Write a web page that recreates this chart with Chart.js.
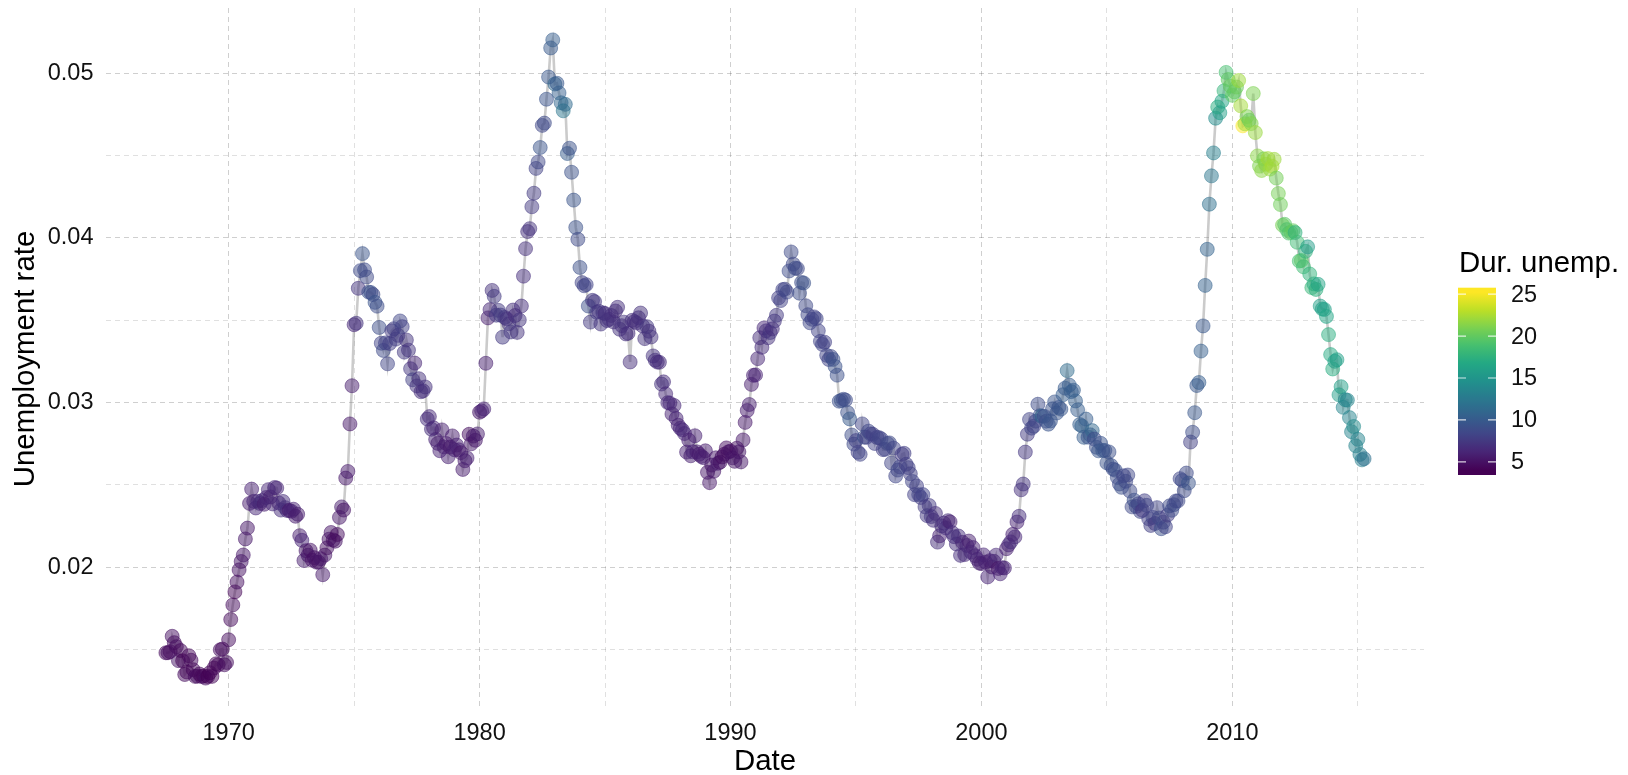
<!DOCTYPE html>
<html>
<head>
<meta charset="utf-8">
<title>Unemployment rate</title>
<script src="https://cdn.jsdelivr.net/npm/chart.js@4.4.1/dist/chart.umd.min.js"></script>
<style>
  html, body { margin: 0; padding: 0; background: #fff; overflow: hidden; }
  #wrap { width: 1628px; height: 775px; }
</style>
</head>
<body>
<div id="wrap"><canvas id="chart"></canvas></div>
<script>
// monthly series, first month is July 1967
const firstYear = 1967;
const firstMonth = 6; // 0-based, July

// unemployed persons (thousands), one line per year
const unemploy = [
  2944, 2945, 2958, 3143, 3066, 3018,
  2878, 3001, 2877, 2709, 2740, 2938, 2883, 2768, 2686, 2689, 2715, 2685,
  2718, 2692, 2712, 2758, 2713, 2816, 2868, 2856, 3040, 3049, 2856, 2884,
  3201, 3453, 3635, 3797, 3919, 4071, 4175, 4256, 4456, 4591, 4898, 5076,
  4986, 4903, 4987, 4959, 4996, 4949, 5035, 5134, 5042, 4954, 5161, 5154,
  5019, 4928, 5038, 4959, 4922, 4923, 4913, 4939, 4849, 4875, 4602, 4543,
  4326, 4452, 4394, 4459, 4329, 4363, 4305, 4305, 4350, 4144, 4396, 4489,
  4644, 4731, 4634, 4618, 4705, 4927, 5063, 5022, 5437, 5523, 6140, 6636,
  7501, 7520, 7978, 8210, 8433, 8220, 8127, 7928, 7923, 7897, 7794, 7744,
  7534, 7326, 7230, 7330, 7053, 7322, 7490, 7518, 7380, 7430, 7620, 7545,
  7280, 7443, 7307, 7059, 6911, 7134, 6829, 6925, 6751, 6763, 6815, 6386,
  6489, 6318, 6337, 6180, 6127, 6028, 6309, 6080, 6125, 5947, 6077, 6228,
  6109, 6173, 6109, 6069, 5840, 5959, 5996, 6320, 6190, 6296, 6238, 6325,
  6683, 6702, 6729, 7358, 7984, 8098, 8363, 8281, 8021, 8088, 8023, 7718,
  8071, 8051, 7982, 7869, 8174, 8098, 7863, 8036, 8230, 8646, 9029, 9267,
  9397, 9705, 9895, 10244, 10335, 10538, 10849, 10881, 11217, 11529, 11938, 12051,
  11534, 11545, 11408, 11268, 11154, 11246, 10548, 10623, 10282, 9887, 9499, 9331,
  9008, 8791, 8746, 8762, 8456, 8226, 8537, 8519, 8367, 8381, 8198, 8358,
  8423, 8321, 8339, 8395, 8302, 8460, 8513, 8196, 8248, 8298, 8128, 8138,
  7795, 8402, 8383, 8364, 8439, 8508, 8319, 8135, 8310, 8243, 8159, 7883,
  7892, 7865, 7862, 7542, 7574, 7398, 7268, 7261, 7102, 7227, 7035, 6936,
  6953, 6929, 6876, 6601, 6779, 6546, 6605, 6843, 6604, 6568, 6537, 6518,
  6682, 6359, 6205, 6468, 6375, 6577, 6495, 6511, 6590, 6630, 6725, 6667,
  6752, 6651, 6598, 6797, 6742, 6590, 6922, 7188, 7368, 7459, 7764, 7901,
  8015, 8265, 8586, 8439, 8736, 8692, 8586, 8666, 8722, 8842, 8931, 9198,
  9283, 9454, 9460, 9415, 9744, 10040, 9850, 9787, 9781, 9398, 9565, 9557,
  9325, 9183, 9056, 9110, 9149, 9121, 8930, 8763, 8714, 8750, 8542, 8477,
  8630, 8583, 8470, 8331, 7915, 7927, 7946, 7933, 7734, 7632, 7375, 7230,
  7375, 7187, 7153, 7645, 7430, 7427, 7527, 7484, 7478, 7328, 7426, 7423,
  7491, 7313, 7318, 7415, 7423, 7095, 7337, 6882, 6979, 7031, 7236, 7253,
  7158, 7102, 7000, 6873, 6655, 6799, 6655, 6608, 6656, 6454, 6308, 6476,
  6368, 6306, 6422, 5941, 6047, 6212, 6259, 6179, 6300, 6280, 6100, 6032,
  5976, 6111, 5783, 6004, 5796, 5951, 6025, 5838, 5915, 5778, 5716, 5653,
  5708, 5858, 5733, 5481, 5758, 5651, 5747, 5853, 5625, 5534, 5639, 5634,
  6023, 6089, 6141, 6271, 6226, 6484, 6583, 7042, 7142, 7694, 8003, 8258,
  8182, 8215, 8304, 8599, 8399, 8393, 8390, 8304, 8251, 8307, 8520, 8640,
  8520, 8618, 8588, 8842, 8957, 9266, 9011, 8896, 8921, 8732, 8576, 8317,
  8370, 8167, 8491, 8170, 8212, 8286, 8136, 7990, 7927, 8061, 7932, 7934,
  7784, 7980, 7737, 7672, 7651, 7524, 7406, 7345, 7553, 7453, 7566, 7279,
  7064, 7184, 7072, 7120, 6980, 7001, 7175, 7091, 6847, 6727, 6872, 6762,
  7116, 6927, 6731, 6850, 6766, 6979, 7149, 7067, 7170, 7237, 7240, 7645,
  7685, 7497, 7822, 7637, 8395, 8575, 8937, 9438, 9494, 10074, 10538, 11286,
  12058, 12898, 13426, 13853, 14499, 14707, 14601, 14814, 15009, 15352, 15219, 15098,
  15046, 15113, 15202, 15325, 14849, 14474, 14512, 14648, 14579, 14516, 15081, 14348,
  14013, 13820, 13737, 13957, 13855, 13962, 13763, 13818, 13948, 13594, 13302, 13093,
  12797, 12813, 12713, 12646, 12660, 12692, 12656, 12471, 12115, 12124, 12005, 12298,
  12471, 11950, 11689, 11760, 11654, 11751, 11335, 11279, 11270, 11136, 10787, 10404,
  10202, 10349, 10380, 9702, 9859, 9460, 9608, 9599, 9262, 8990, 9090, 8717,
  8903, 8610, 8504, 8526
];

// population (millions), one value per year 1967..2015
const popByYear = [
  198.7, 200.7, 202.7, 205.1, 207.7, 209.9, 211.9, 213.9, 216.0, 218.0,
  220.2, 222.6, 225.1, 227.2, 229.5, 231.7, 233.8, 235.8, 237.9, 240.1,
  242.3, 244.5, 246.8, 249.6, 253.0, 256.5, 259.9, 263.1, 266.3, 269.4,
  272.6, 275.9, 279.0, 282.2, 285.0, 287.6, 290.1, 292.8, 295.5, 298.4,
  301.2, 304.1, 306.8, 309.3, 311.6, 313.9, 316.1, 318.4, 320.6
];

// median duration of unemployment (weeks)
const uempmed = [
  4.5, 4.7, 4.6, 4.9, 4.7, 4.8,
  5.1, 4.5, 4.1, 4.6, 4.4, 4.4, 4.5, 4.2, 4.6, 4.8, 4.4, 4.4,
  4.4, 4.9, 4.0, 4.0, 4.2, 4.4, 4.4, 4.4, 4.7, 4.5, 4.8, 4.6,
  4.6, 4.5, 4.6, 4.1, 4.7, 4.9, 5.1, 5.4, 5.2, 5.2, 5.6, 5.9,
  6.2, 6.3, 6.4, 6.5, 6.7, 5.7, 6.2, 6.4, 5.8, 6.5, 6.4, 6.2,
  6.2, 6.6, 6.6, 6.7, 6.6, 5.4, 6.1, 6.0, 5.6, 5.7, 5.7, 6.1,
  5.7, 5.2, 5.5, 5.0, 4.9, 5.0, 5.2, 4.9, 5.4, 5.5, 5.1, 4.7,
  5.0, 5.1, 4.8, 5.0, 4.6, 5.3, 5.7, 5.0, 5.3, 5.5, 5.2, 5.7,
  6.3, 7.1, 7.2, 8.7, 9.4, 8.8, 8.6, 9.2, 9.2, 8.6, 9.5, 9.0,
  9.0, 8.2, 8.7, 8.2, 8.3, 7.8, 7.7, 7.9, 7.8, 7.7, 8.4, 8.0,
  7.5, 7.2, 7.2, 7.3, 7.9, 6.2, 7.1, 7.0, 6.7, 6.9, 7.0, 6.8,
  6.5, 6.7, 6.2, 6.1, 5.7, 6.0, 5.8, 5.8, 5.6, 5.9, 5.5, 5.6,
  5.9, 5.9, 5.9, 5.4, 5.6, 5.6, 5.9, 4.8, 5.5, 5.5, 5.3, 5.7,
  5.3, 5.8, 6.0, 5.8, 5.7, 6.4, 7.0, 7.5, 7.7, 7.5, 7.7, 7.5,
  7.4, 7.1, 7.1, 7.4, 6.9, 6.6, 7.1, 7.2, 6.8, 6.8, 6.9, 6.9,
  7.1, 7.5, 7.7, 8.1, 8.5, 9.5, 8.5, 8.7, 9.5, 9.7, 10.0, 10.2,
  11.1, 9.8, 10.4, 10.9, 12.3, 11.3, 10.1, 9.3, 9.3, 9.4, 9.3, 8.7,
  9.1, 8.3, 8.3, 8.2, 9.1, 7.5, 7.5, 7.3, 7.6, 7.2, 7.2, 7.3,
  6.8, 7.1, 7.1, 6.9, 6.9, 6.6, 6.9, 7.1, 6.9, 7.1, 7.0, 6.8,
  6.7, 6.9, 6.8, 6.7, 6.8, 7.0, 6.9, 7.1, 7.4, 7.0, 7.1, 7.1,
  6.9, 6.6, 6.6, 7.1, 6.6, 6.5, 6.5, 6.4, 6.0, 6.3, 6.2, 6.0,
  6.2, 6.3, 6.4, 5.9, 5.9, 5.8, 6.1, 5.9, 5.7, 5.6, 5.7, 5.9,
  5.6, 5.4, 5.4, 5.4, 5.3, 5.4, 5.6, 5.0, 4.9, 4.9, 4.8, 4.9,
  5.1, 5.3, 5.1, 4.8, 5.2, 5.2, 5.4, 5.4, 5.6, 5.8, 5.7, 5.9,
  6.0, 6.2, 6.7, 6.6, 6.4, 6.9, 7.0, 7.3, 6.8, 7.2, 7.5, 7.8,
  8.1, 8.2, 8.3, 8.5, 8.8, 8.7, 8.6, 8.8, 8.6, 9.0, 9.0, 9.3,
  8.6, 8.5, 8.5, 8.4, 8.1, 8.3, 8.2, 8.2, 8.3, 8.0, 8.3, 8.3,
  8.6, 9.2, 9.3, 9.1, 9.2, 9.3, 9.0, 8.9, 9.2, 10.0, 9.0, 8.7,
  8.0, 8.1, 8.3, 8.3, 9.1, 7.9, 8.5, 8.3, 7.9, 8.2, 8.0, 8.3,
  8.3, 7.8, 8.3, 8.6, 8.6, 8.3, 8.3, 8.4, 8.5, 8.3, 7.7, 7.8,
  7.8, 8.1, 7.9, 8.3, 8.0, 8.0, 8.3, 7.8, 8.2, 7.7, 7.6, 7.5,
  7.4, 7.0, 6.8, 6.7, 6.0, 6.9, 6.7, 6.8, 6.7, 5.8, 6.6, 6.8,
  6.9, 6.8, 6.8, 6.2, 6.5, 6.3, 5.8, 6.5, 6.0, 6.1, 6.2, 5.8,
  5.8, 6.1, 6.0, 6.1, 5.8, 5.7, 6.0, 6.3, 5.2, 6.1, 6.1, 6.0,
  5.8, 6.1, 6.6, 5.9, 6.3, 6.0, 6.8, 6.9, 7.2, 7.3, 7.7, 8.2,
  8.4, 8.3, 8.4, 8.9, 9.5, 11.0, 8.9, 9.0, 9.5, 9.6, 9.3, 9.6,
  9.6, 9.5, 9.7, 10.2, 9.9, 11.5, 10.3, 10.1, 10.2, 10.4, 10.3, 10.4,
  10.6, 10.2, 10.2, 9.5, 9.9, 11.0, 8.9, 9.2, 9.6, 9.5, 9.7, 9.5,
  9.4, 9.2, 9.3, 9.0, 9.1, 9.0, 8.8, 9.2, 8.4, 8.6, 8.5, 8.7,
  8.6, 9.1, 8.7, 8.4, 8.5, 7.3, 8.0, 8.4, 8.0, 7.9, 8.3, 7.5,
  8.3, 8.5, 9.1, 8.6, 8.2, 7.7, 8.7, 8.8, 8.7, 8.4, 8.6, 8.4,
  9.0, 8.7, 8.7, 9.4, 7.9, 9.0, 9.7, 9.7, 10.2, 10.4, 9.8, 10.5,
  10.7, 11.7, 12.3, 13.1, 14.2, 17.2, 16.0, 16.3, 17.8, 18.9, 19.8, 20.1,
  20.0, 19.9, 20.4, 22.1, 22.3, 25.2, 22.3, 21.0, 20.3, 21.2, 21.0, 21.9,
  21.5, 21.1, 21.5, 20.9, 21.6, 22.3, 22.0, 22.4, 22.0, 20.6, 20.8, 20.5,
  20.8, 19.7, 19.2, 19.1, 19.9, 20.1, 17.5, 18.5, 18.8, 19.7, 18.5, 17.6,
  15.6, 17.7, 18.0, 17.3, 17.4, 16.3, 16.0, 15.9, 16.0, 16.4, 17.2, 16.9,
  17.1, 16.0, 16.0, 15.7, 15.9, 13.6, 13.8, 13.7, 13.4, 13.5, 14.2, 13.5,
  13.4, 13.2, 12.9, 11.8
];

// axis breaks
const xTicks = [1970, 1975, 1980, 1985, 1990, 1995, 2000, 2005, 2010, 2015];
const xLabelled = [1970, 1980, 1990, 2000, 2010];
const yTicks = [0.015, 0.02, 0.025, 0.03, 0.035, 0.04, 0.045, 0.05];
const yLabelled = [0.02, 0.03, 0.04, 0.05];
const legendBreaks = [5, 10, 15, 20, 25];

const FONT = '"Liberation Sans", Arial, Helvetica, sans-serif';

// viridis colour map
const viridisStops = ['#440154', '#482475', '#414487', '#355f8d', '#2a788e', '#21918c',
                      '#22a884', '#44bf70', '#7ad151', '#bddf26', '#fde725'];
const hexRgb = h => [1, 3, 5].map(i => parseInt(h.slice(i, i + 2), 16));
function viridis(t, alpha) {
    t = Math.max(0, Math.min(1, t));
    const p = t * (viridisStops.length - 1);
    const i = Math.min(Math.floor(p), viridisStops.length - 2);
    const f = p - i;
    const a = hexRgb(viridisStops[i]), b = hexRgb(viridisStops[i + 1]);
    const c = a.map((v, k) => Math.round(v + (b[k] - v) * f));
    return `rgba(${c[0]}, ${c[1]}, ${c[2]}, ${alpha})`;
}

// build points
const points = unemploy.map((u, i) => {
    const m = firstMonth + i;
    const year = firstYear + Math.floor(m / 12);
    return { x: firstYear + m / 12, y: u / (popByYear[year - firstYear] * 1000) };
});

const durMin = Math.min(...uempmed);
const durMax = Math.max(...uempmed);
const colourFor = (v, a) => viridis((v - durMin) / (durMax - durMin), a);

// ggplot style 5% expansion of the data range
const expand = (lo, hi) => [lo - (hi - lo) * 0.05, hi + (hi - lo) * 0.05];
const [xMin, xMax] = expand(points[0].x, points[points.length - 1].x);
const ys = points.map(p => p.y);
const [yMin, yMax] = expand(Math.min(...ys), Math.max(...ys));

const isIn = (v, list) => list.some(l => Math.abs(l - v) < 1e-9);

// colour bar legend drawn next to the panel
const colourBar = {
    id: 'colourBar',
    afterDraw(chart) {
        const ctx = chart.ctx;
        const x0 = 1458, w = 38, top = 287.7, bottom = 475;
        // bar extends half a bin past the limits (20 bins)
        const half = (durMax - durMin) / 38;
        const vTop = durMax + half, vBot = durMin - half;
        const yOf = v => bottom - (v - vBot) / (vTop - vBot) * (bottom - top);

        ctx.save();
        const grad = ctx.createLinearGradient(0, bottom, 0, top);
        for (let k = 0; k <= 40; k++) {
            const v = vBot + (vTop - vBot) * k / 40;
            grad.addColorStop(k / 40, colourFor(v, 1));
        }
        ctx.fillStyle = grad;
        ctx.fillRect(x0, top, w, bottom - top);

        ctx.strokeStyle = 'rgba(255,255,255,0.8)';
        ctx.lineWidth = 1.2;
        ctx.fillStyle = '#111';
        ctx.font = `23.5px ${FONT}`;
        ctx.textAlign = 'left';
        ctx.textBaseline = 'middle';
        legendBreaks.forEach(b => {
            const y = yOf(b);
            ctx.beginPath();
            ctx.moveTo(x0, y); ctx.lineTo(x0 + 8, y);
            ctx.moveTo(x0 + w - 8, y); ctx.lineTo(x0 + w, y);
            ctx.stroke();
            ctx.fillText(String(b), 1511, y + 1);
        });

        ctx.fillStyle = '#000';
        ctx.font = `29.4px ${FONT}`;
        ctx.textBaseline = 'alphabetic';
        ctx.fillText('Dur. unemp.', 1459, 271.7);
        ctx.restore();
    }
};

const gridColour = (ctx, major) => isIn(ctx.tick.value, major) ? 'rgba(0,0,0,0.19)' : 'rgba(0,0,0,0.12)';

new Chart(document.getElementById('chart'), {
    type: 'scatter',
    data: {
        datasets: [
            {
                label: 'points',
                data: points,
                order: 0,
                pointRadius: 7,
                pointHoverRadius: 7,
                borderWidth: 1,
                backgroundColor: uempmed.map(v => colourFor(v, 0.5)),
                borderColor: uempmed.map(v => colourFor(v, 0.5))
            },
            {
                label: 'line',
                data: points,
                order: 1,
                showLine: true,
                pointRadius: 0,
                borderColor: 'rgba(140,140,140,0.45)',
                borderWidth: 2.6,
                tension: 0
            }
        ]
    },
    options: {
        responsive: true,
        maintainAspectRatio: false,
        animation: false,
        events: [],
        layout: { padding: { top: 6, right: 204, bottom: 0, left: 0 } },
        plugins: {
            legend: { display: false },
            tooltip: { enabled: false }
        },
        scales: {
            x: {
                type: 'linear',
                min: xMin,
                max: xMax,
                afterBuildTicks: s => { s.ticks = xTicks.map(v => ({ value: v })); },
                afterFit: s => { s.height = 65; s.paddingLeft = 0; s.paddingRight = 0; },
                ticks: {
                    autoSkip: false,
                    maxRotation: 0,
                    padding: 9,
                    color: '#111',
                    font: { size: 23.5, family: FONT },
                    callback: v => isIn(v, xLabelled) ? String(v) : ''
                },
                grid: {
                    drawTicks: false,
                    lineWidth: 1,
                    color: ctx => gridColour(ctx, xLabelled)
                },
                border: { display: false, dash: [5, 4] },
                title: {
                    display: true,
                    text: 'Date',
                    color: '#000',
                    font: { size: 29.4, family: FONT, lineHeight: 1 },
                    padding: { top: 0, bottom: -2 }
                }
            },
            y: {
                type: 'linear',
                min: yMin,
                max: yMax,
                afterBuildTicks: s => { s.ticks = yTicks.map(v => ({ value: v })); },
                afterFit: s => { s.width = 106; s.paddingTop = 0; s.paddingBottom = 0; },
                ticks: {
                    autoSkip: false,
                    padding: 12.5,
                    color: '#111',
                    font: { size: 23.5, family: FONT },
                    callback: v => isIn(v, yLabelled) ? v.toFixed(2) : ''
                },
                grid: {
                    drawTicks: false,
                    lineWidth: 1,
                    color: ctx => gridColour(ctx, yLabelled)
                },
                border: { display: false, dash: [5, 4] },
                title: {
                    display: true,
                    text: 'Unemployment rate',
                    color: '#000',
                    font: { size: 29.4, family: FONT, lineHeight: 1 },
                    padding: { top: 11, bottom: 0 }
                }
            }
        }
    },
    plugins: [colourBar]
});
</script>
</body>
</html>
